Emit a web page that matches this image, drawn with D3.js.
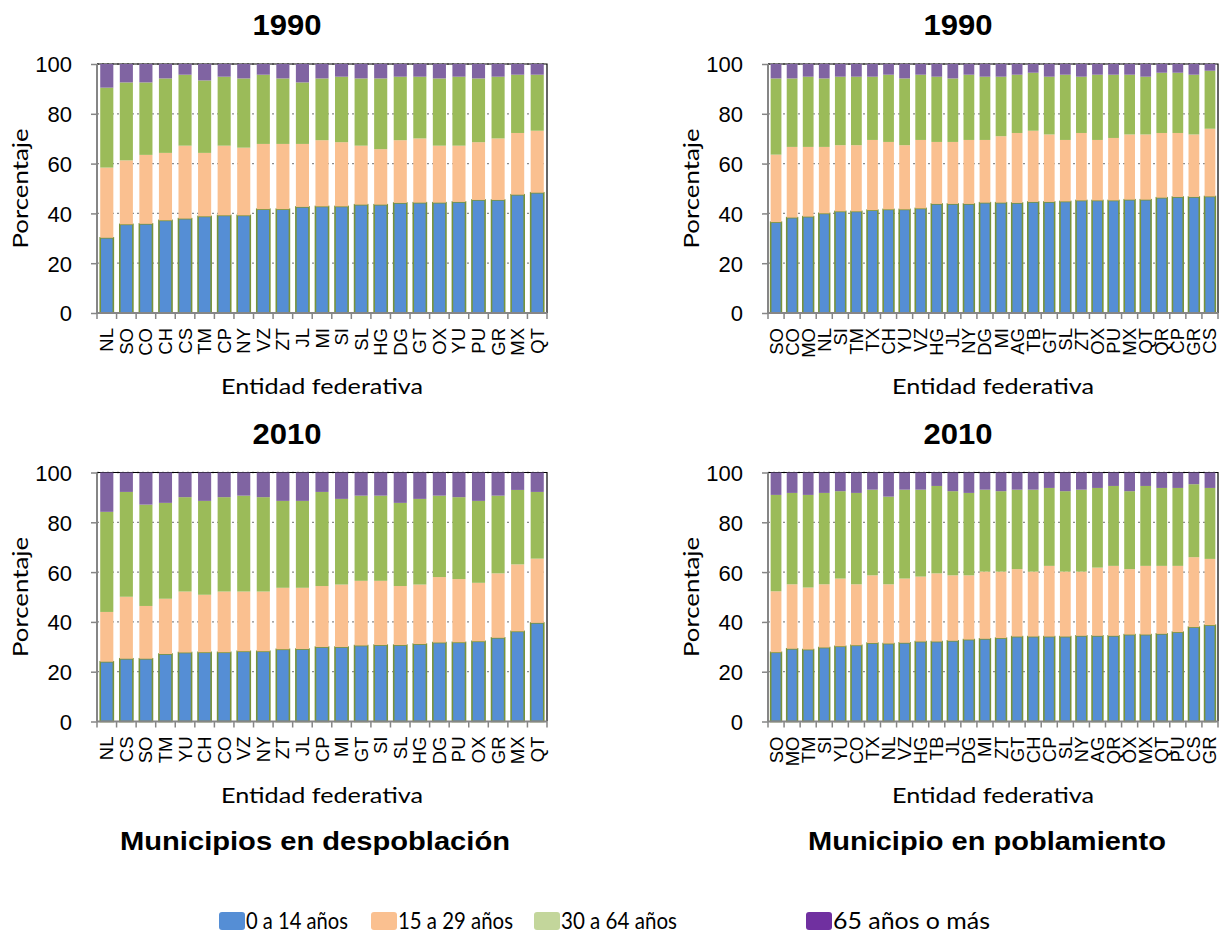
<!DOCTYPE html>
<html><head><meta charset="utf-8">
<script src="https://cdn.jsdelivr.net/npm/d3@7"></script>
<style>body{margin:0;background:#fff}</style>
</head><body>
<svg id="c" width="1225" height="937"></svg>
<script>
// ---------- DATA ----------
const seriesNames = ["0 a 14 años", "15 a 29 años", "30 a 64 años", "65 años o más"];
const yTicks = [0, 20, 40, 60, 80, 100];

// Municipios en despoblación, 1990
const desp1990Cat = ["NL","SO","CO","CH","CS","TM","CP","NY","VZ","ZT","JL","MI","SI","SL","HG","DG","GT","OX","YU","PU","GR","MX","QT"];
const desp1990_0a14  = [30.2,35.6,35.8,37.2,37.9,38.8,39.2,39.2,41.7,41.7,42.6,42.8,42.8,43.5,43.5,44.2,44.3,44.3,44.6,45.4,45.4,47.5,48.3];
const desp1990_15a29 = [28.2,25.7,27.7,27.1,29.3,25.5,28.0,27.2,26.2,26.2,25.3,26.6,25.8,23.7,22.3,25.2,25.8,22.9,22.6,23.2,24.7,24.8,24.9];
const desp1990_30a64 = [32.1,31.3,29.1,29.9,28.5,29.1,27.7,27.8,27.8,26.3,24.7,24.8,26.3,27.0,28.4,25.5,24.8,27.0,27.7,25.6,24.8,23.4,22.5];
const desp1990_65mas = [9.5,7.4,7.4,5.8,4.3,6.6,5.1,5.8,4.3,5.8,7.4,5.8,5.1,5.8,5.8,5.1,5.1,5.8,5.1,5.8,5.1,4.3,4.3];

// Municipio en poblamiento, 1990
const pobl1990Cat = ["SO","CO","MO","NL","SI","TM","TX","CH","YU","VZ","HG","JL","NY","DG","MI","AG","TB","GT","SL","ZT","OX","PU","MX","QT","QR","CP","GR","CS"];
const pobl1990_0a14  = [36.5,38.3,38.7,40.0,40.8,40.8,41.3,41.6,41.6,42.0,43.8,43.8,43.8,44.3,44.3,44.2,44.6,44.6,44.8,45.2,45.2,45.2,45.5,45.5,46.3,46.6,46.6,46.8];
const pobl1990_15a29 = [27.1,28.4,28.0,26.7,26.6,26.6,28.2,27.1,25.8,27.5,24.9,24.9,25.7,25.2,26.7,28.1,28.6,27.1,24.7,27.1,24.3,25.1,26.2,26.2,26.0,25.7,25.1,27.2];
const pobl1990_30a64 = [30.6,27.5,28.2,27.5,27.5,27.5,25.4,27.0,26.8,26.2,26.2,25.5,26.2,25.4,23.9,23.4,23.3,23.2,26.2,22.6,26.2,25.4,24.0,23.2,24.2,24.2,24.0,23.3];
const pobl1990_65mas = [5.8,5.8,5.1,5.8,5.1,5.1,5.1,4.3,5.8,4.3,5.1,5.8,4.3,5.1,5.1,4.3,3.5,5.1,4.3,5.1,4.3,4.3,4.3,5.1,3.5,3.5,4.3,2.7];

// Municipios en despoblación, 2010
const desp2010Cat = ["NL","CS","SO","TM","YU","CH","CO","VZ","NY","ZT","JL","CP","MI","GT","SI","SL","HG","DG","PU","OX","GR","MX","QT"];
const desp2010_0a14  = [24.0,25.2,25.2,27.1,27.7,27.8,27.8,28.2,28.2,29.0,29.1,29.9,29.9,30.5,30.7,30.7,31.1,31.7,31.8,32.2,33.6,36.2,39.6];
const desp2010_15a29 = [20.0,24.9,21.2,22.2,24.5,23.1,24.4,24.0,24.0,24.7,24.6,24.5,25.1,26.0,25.8,23.7,23.9,26.3,25.4,23.5,25.9,26.9,25.8];
const desp2010_30a64 = [40.2,42.1,40.7,38.5,37.9,37.7,37.9,38.5,37.9,34.9,34.9,37.8,34.4,34.2,34.2,33.4,34.4,32.7,32.9,32.9,31.2,29.9,26.8];
const desp2010_65mas = [15.8,7.8,12.9,12.2,9.9,11.4,9.9,9.3,9.9,11.4,11.4,7.8,10.6,9.3,9.3,12.2,10.6,9.3,9.9,11.4,9.3,7.0,7.8];

// Municipio en poblamiento, 2010
const pobl2010Cat = ["SO","MO","TM","SI","YU","CO","TX","NL","VZ","HG","TB","JL","DG","MI","ZT","GT","CH","CP","SL","NY","AG","QR","OX","MX","QT","PU","CS","GR"];
const pobl2010_0a14  = [27.8,29.2,28.9,29.7,30.2,30.6,31.5,31.3,31.6,32.1,32.1,32.4,32.9,33.2,33.5,34.1,34.1,34.1,34.1,34.4,34.4,34.4,34.9,34.9,35.2,35.9,37.9,38.7];
const pobl2010_15a29 = [24.5,25.9,24.9,25.4,27.2,24.5,27.2,23.8,25.8,26.1,27.4,26.3,25.8,27.0,26.7,27.1,26.1,28.4,26.1,25.8,27.4,28.1,26.3,27.6,27.3,26.6,28.1,26.6];
const pobl2010_30a64 = [38.7,36.7,37.2,36.7,35.1,36.7,34.4,35.2,35.7,34.9,35.1,33.8,33.1,32.9,32.3,31.9,32.9,31.3,32.3,32.9,32.0,32.1,31.3,32.1,31.3,31.3,29.3,28.5];
const pobl2010_65mas = [9.0,8.2,9.0,8.2,7.5,8.2,6.9,9.7,6.9,6.9,5.4,7.5,8.2,6.9,7.5,6.9,6.9,6.2,7.5,6.9,6.2,5.4,7.5,5.4,6.2,6.2,4.7,6.2];

// ---------- STYLE ----------
const barColors = ["#558ED5", "#FAC090", "#9BBB59", "#8064A2"];
const legendColors = ["#558ED5", "#FAC090", "#C3D69B", "#7030A0"];
const sans = "'Liberation Sans', Arial, sans-serif";
const calib = "Lato, 'Open Sans', sans-serif";

const svg = d3.select("#c");

function drawPanel(px, py, title, cats, s0, s1, s2, s3) {
  const w = 450, h = 249;
  const g = svg.append("g").attr("transform", `translate(${px},${py})`);
  const rows = cats.map((c, i) => ({cat: c, s0: s0[i], s1: s1[i], s2: s2[i], s3: s3[i]}));
  const stack = d3.stack().keys(["s0","s1","s2","s3"])(rows);
  const x = d3.scaleBand().domain(cats).range([0, w]).paddingInner(0.33).paddingOuter(0.165);
  const y = d3.scaleLinear().domain([0, 100]).range([h, 0]);

  // grid
  g.selectAll(".grid").data(yTicks.filter(t => t > 0)).join("line")
    .attr("x1", 0).attr("x2", w).attr("y1", d => y(d)).attr("y2", d => y(d))
    .attr("stroke", "#8c8c8c").attr("stroke-width", 1.3).attr("stroke-dasharray", "2,3");
  // frame top/right
  g.append("path").attr("d", `M0,${y(100)}H${w}V${h}`).attr("fill", "none").attr("stroke", "#000").attr("stroke-width", 1.2);

  // bars
  stack.forEach((layer, k) => {
    g.selectAll(".b" + k).data(layer).join("rect")
      .attr("x", d => x(d.data.cat))
      .attr("width", x.bandwidth())
      .attr("y", d => y(d[1]))
      .attr("height", d => y(d[0]) - y(d[1]))
      .attr("fill", barColors[k])
      .attr("stroke", k === 0 ? "#77933C" : "none")
      .attr("stroke-width", k === 0 ? 1.6 : 0);
  });

  // y axis
  const ya = g.append("g").call(d3.axisLeft(y).tickValues(yTicks).tickSize(6).tickPadding(0).tickFormat(d3.format("d")));
  ya.select(".domain").attr("stroke", "#868686").attr("stroke-width", 2).attr("d", `M0,${h}V0`);
  ya.selectAll(".tick line").attr("stroke", "#868686").attr("stroke-width", 1.5);
  ya.selectAll(".tick text").attr("x", -25).attr("dy", "0.36em").attr("font-family", sans).attr("font-size", 22).attr("fill", "#000");

  // x axis
  const xa = g.append("g").attr("transform", `translate(0,${h})`);
  xa.append("line").attr("x1", 0).attr("x2", w).attr("stroke", "#868686").attr("stroke-width", 2);
  const step = x.step();
  const tickX = i => i === 0 ? 0 : (i === cats.length ? w : x(cats[i]) - x.paddingInner() * step / 2);
  xa.selectAll(".xt").data(d3.range(cats.length + 1)).join("line")
    .attr("x1", tickX).attr("x2", tickX)
    .attr("y1", 0).attr("y2", 6).attr("stroke", "#868686").attr("stroke-width", 1.5);
  xa.selectAll(".xl").data(cats).join("text")
    .attr("transform", d => `translate(${x(d) + x.bandwidth() / 2},15) rotate(-90)`)
    .attr("text-anchor", "end").attr("dominant-baseline", "central")
    .attr("font-family", sans).attr("font-size", 18.5).text(d => d);

  // titles
  g.append("text").attr("x", w / 2 - 35).attr("y", -29).attr("text-anchor", "middle")
    .attr("font-family", sans).attr("font-weight", "bold").attr("font-size", 30)
    .attr("textLength", 69).attr("lengthAdjust", "spacingAndGlyphs").text(title);
  g.append("text").attr("transform", `translate(-69,${h / 2}) rotate(-90)`).attr("text-anchor", "middle")
    .attr("font-family", calib).attr("font-size", 22)
    .attr("textLength", 120).attr("lengthAdjust", "spacingAndGlyphs").text("Porcentaje");
  g.append("text").attr("x", w / 2).attr("y", h + 81).attr("text-anchor", "middle")
    .attr("font-family", calib).attr("font-size", 22)
    .attr("textLength", 202).attr("lengthAdjust", "spacingAndGlyphs").text("Entidad federativa");
}

drawPanel(97, 64, "1990", desp1990Cat, desp1990_0a14, desp1990_15a29, desp1990_30a64, desp1990_65mas);
drawPanel(768, 64, "1990", pobl1990Cat, pobl1990_0a14, pobl1990_15a29, pobl1990_30a64, pobl1990_65mas);
drawPanel(97, 472.5, "2010", desp2010Cat, desp2010_0a14, desp2010_15a29, desp2010_30a64, desp2010_65mas);
drawPanel(768, 472.5, "2010", pobl2010Cat, pobl2010_0a14, pobl2010_15a29, pobl2010_30a64, pobl2010_65mas);

// group subtitles
svg.append("text").attr("x", 315).attr("y", 850).attr("text-anchor", "middle")
  .attr("font-family", sans).attr("font-weight", "bold").attr("font-size", 26)
  .attr("textLength", 390).attr("lengthAdjust", "spacingAndGlyphs").text("Municipios en despoblación");
svg.append("text").attr("x", 987).attr("y", 850).attr("text-anchor", "middle")
  .attr("font-family", sans).attr("font-weight", "bold").attr("font-size", 26)
  .attr("textLength", 358).attr("lengthAdjust", "spacingAndGlyphs").text("Municipio en poblamiento");

// legend
const legX = [219, 371, 534, 806];
const legW = [102, 115, 116, 157];
const leg = svg.append("g");
seriesNames.forEach((n, i) => {
  leg.append("rect").attr("x", legX[i]).attr("y", 912).attr("width", 26).attr("height", 18).attr("rx", 3)
    .attr("fill", legendColors[i]);
  leg.append("text").attr("x", legX[i] + 27).attr("y", 929).attr("font-family", calib).attr("font-size", 24)
    .attr("textLength", legW[i]).attr("lengthAdjust", "spacingAndGlyphs").text(n);
});
</script>
</body></html>
